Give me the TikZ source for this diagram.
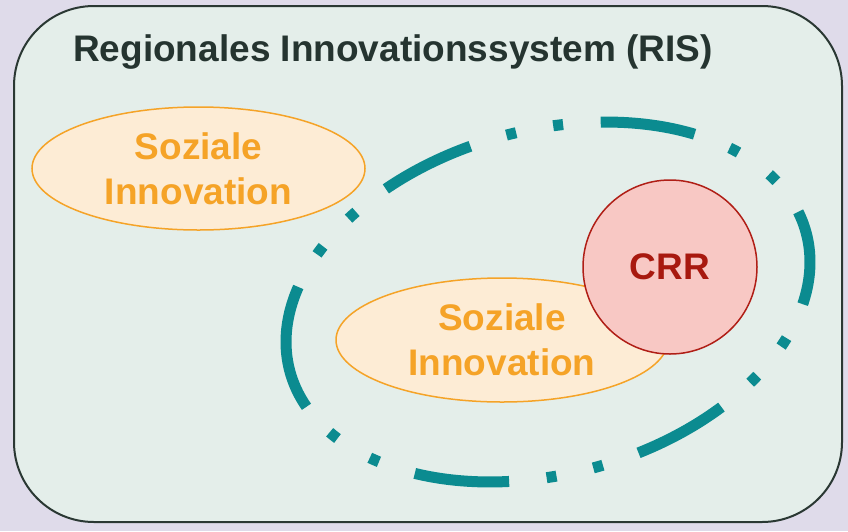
\documentclass[tikz,border=0pt]{standalone}
\usepackage{fontspec}
\setmainfont{Liberation Sans}
\usetikzlibrary{shapes.geometric}
\definecolor{bgl}{HTML}{DFDBEA}
\definecolor{risfill}{HTML}{E4EEEA}
\definecolor{risline}{HTML}{2A3833}
\definecolor{titlec}{HTML}{253430}
\definecolor{orng}{HTML}{F5A327}
\definecolor{orngfill}{HTML}{FDECD5}
\definecolor{tealc}{HTML}{0B8B90}
\definecolor{crrfill}{HTML}{F8C8C4}
\definecolor{crrline}{HTML}{B01E16}
\definecolor{crrtext}{HTML}{A8190F}
\begin{document}
\begin{tikzpicture}[x=1pt,y=-1pt,
  sozial/.style={ellipse, draw=orng, fill=orngfill, line width=1.5pt, text=orng,
    inner sep=0pt, align=center, font=\fontsize{37}{45}\selectfont\bfseries},
  risbox/.style={draw=risline, fill=risfill, line width=2pt, rounded corners=80pt, inner sep=0pt},
  crrnode/.style={circle, draw=crrline, fill=crrfill, line width=1.5pt, inner sep=0pt,
    text=crrtext, font=\fontsize{37}{45}\selectfont\bfseries},
  ringline/.style={tealc, line width=11pt},
  dashring/.style={ringline,
    dash pattern=on 95pt off 37.7pt on 10pt off 37.7pt on 10pt off 37.7pt, dash phase=95pt}]
\fill[bgl] (0,0) rectangle (848,531);
\useasboundingbox (0,0) rectangle (848,531);
\node[risbox, minimum width=828pt, minimum height=516pt] (ris) at (428,264) {};
\node[anchor=base west, text=titlec, font=\fontsize{37}{44}\selectfont\bfseries, inner sep=0pt] (title) at (73,61) {Regionales Innovationssystem (RIS)};
\node[sozial, minimum width=333pt, minimum height=123pt] (soz1) at (198.5,168.5) {Soziale\\Innovation};
% dash-dot ring: rotated ellipse, centre (548,302), semi-axes 267.3 and 172, tilted 15 deg
\draw[dashring] plot[domain=207.4:527, samples=240, smooth]
  ({548 + 267.3*cos(\x)*0.9659 + 172*sin(\x)*0.2588},
   {302 - 267.3*cos(\x)*0.2588 + 172*sin(\x)*0.9659});
\draw[ringline] plot[domain=167:207.4, samples=40, smooth]
  ({548 + 267.3*cos(\x)*0.9659 + 172*sin(\x)*0.2588},
   {302 - 267.3*cos(\x)*0.2588 + 172*sin(\x)*0.9659});
\node[sozial, minimum width=332pt, minimum height=124pt] (soz2) at (502,340) {Soziale\\Innovation};
\node[crrnode, minimum size=174pt] (crr) at (670,267) {CRR};
\end{tikzpicture}
\end{document}
